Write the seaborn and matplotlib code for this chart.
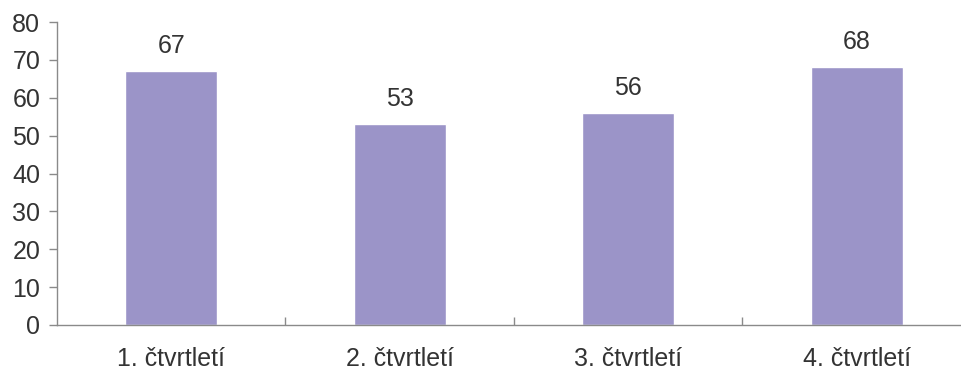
import matplotlib
matplotlib.use("Agg")
import matplotlib.pyplot as plt
import seaborn as sns
import pandas as pd
from matplotlib.ticker import FixedLocator

categories = ["1. čtvrtletí", "2. čtvrtletí", "3. čtvrtletí", "4. čtvrtletí"]
values = [67, 53, 56, 68]
yticks = [0, 10, 20, 30, 40, 50, 60, 70, 80]

sns.set_style("white")
plt.rcParams['font.family'] = ['Liberation Sans', 'DejaVu Sans']

df = pd.DataFrame({"cat": categories, "val": values})

W, H = 962, 371
fig = plt.figure(figsize=(W / 100, H / 100), dpi=100)
ax = fig.add_axes([57 / W, (H - 325) / H, (971 - 57) / W, (325 - 22) / H])

sns.barplot(data=df, x="cat", y="val", color="#9b94c8", saturation=1,
            width=0.403, ax=ax)

ax.set_xlim(-0.5, len(categories) - 0.5)
ax.set_ylim(0, 80)
ax.set_yticks(yticks)
ax.set_xlabel("")
ax.set_ylabel("")

for sp in ["top", "right"]:
    ax.spines[sp].set_visible(False)
for sp in ["left", "bottom"]:
    ax.spines[sp].set_color("#8a8a8a")
    ax.spines[sp].set_linewidth(1.0)

txt = "#333333"
fs = 18
ax.tick_params(axis="y", direction="out", length=6, width=1, color="#8a8a8a",
               labelsize=fs, labelcolor=txt, pad=6, left=True)
ax.tick_params(axis="x", which="major", length=0, labelsize=fs, labelcolor=txt, pad=16)
ax.xaxis.set_minor_locator(FixedLocator([0.5, 1.5, 2.5]))
ax.tick_params(axis="x", which="minor", direction="in", length=6, width=1,
               color="#8a8a8a", bottom=True)

for i, v in enumerate(values):
    ax.annotate(str(v), xy=(i, v), xytext=(0, 9.5), textcoords="offset points",
                ha="center", va="bottom", fontsize=fs, color=txt)

fig.savefig("out.png", dpi=100)
